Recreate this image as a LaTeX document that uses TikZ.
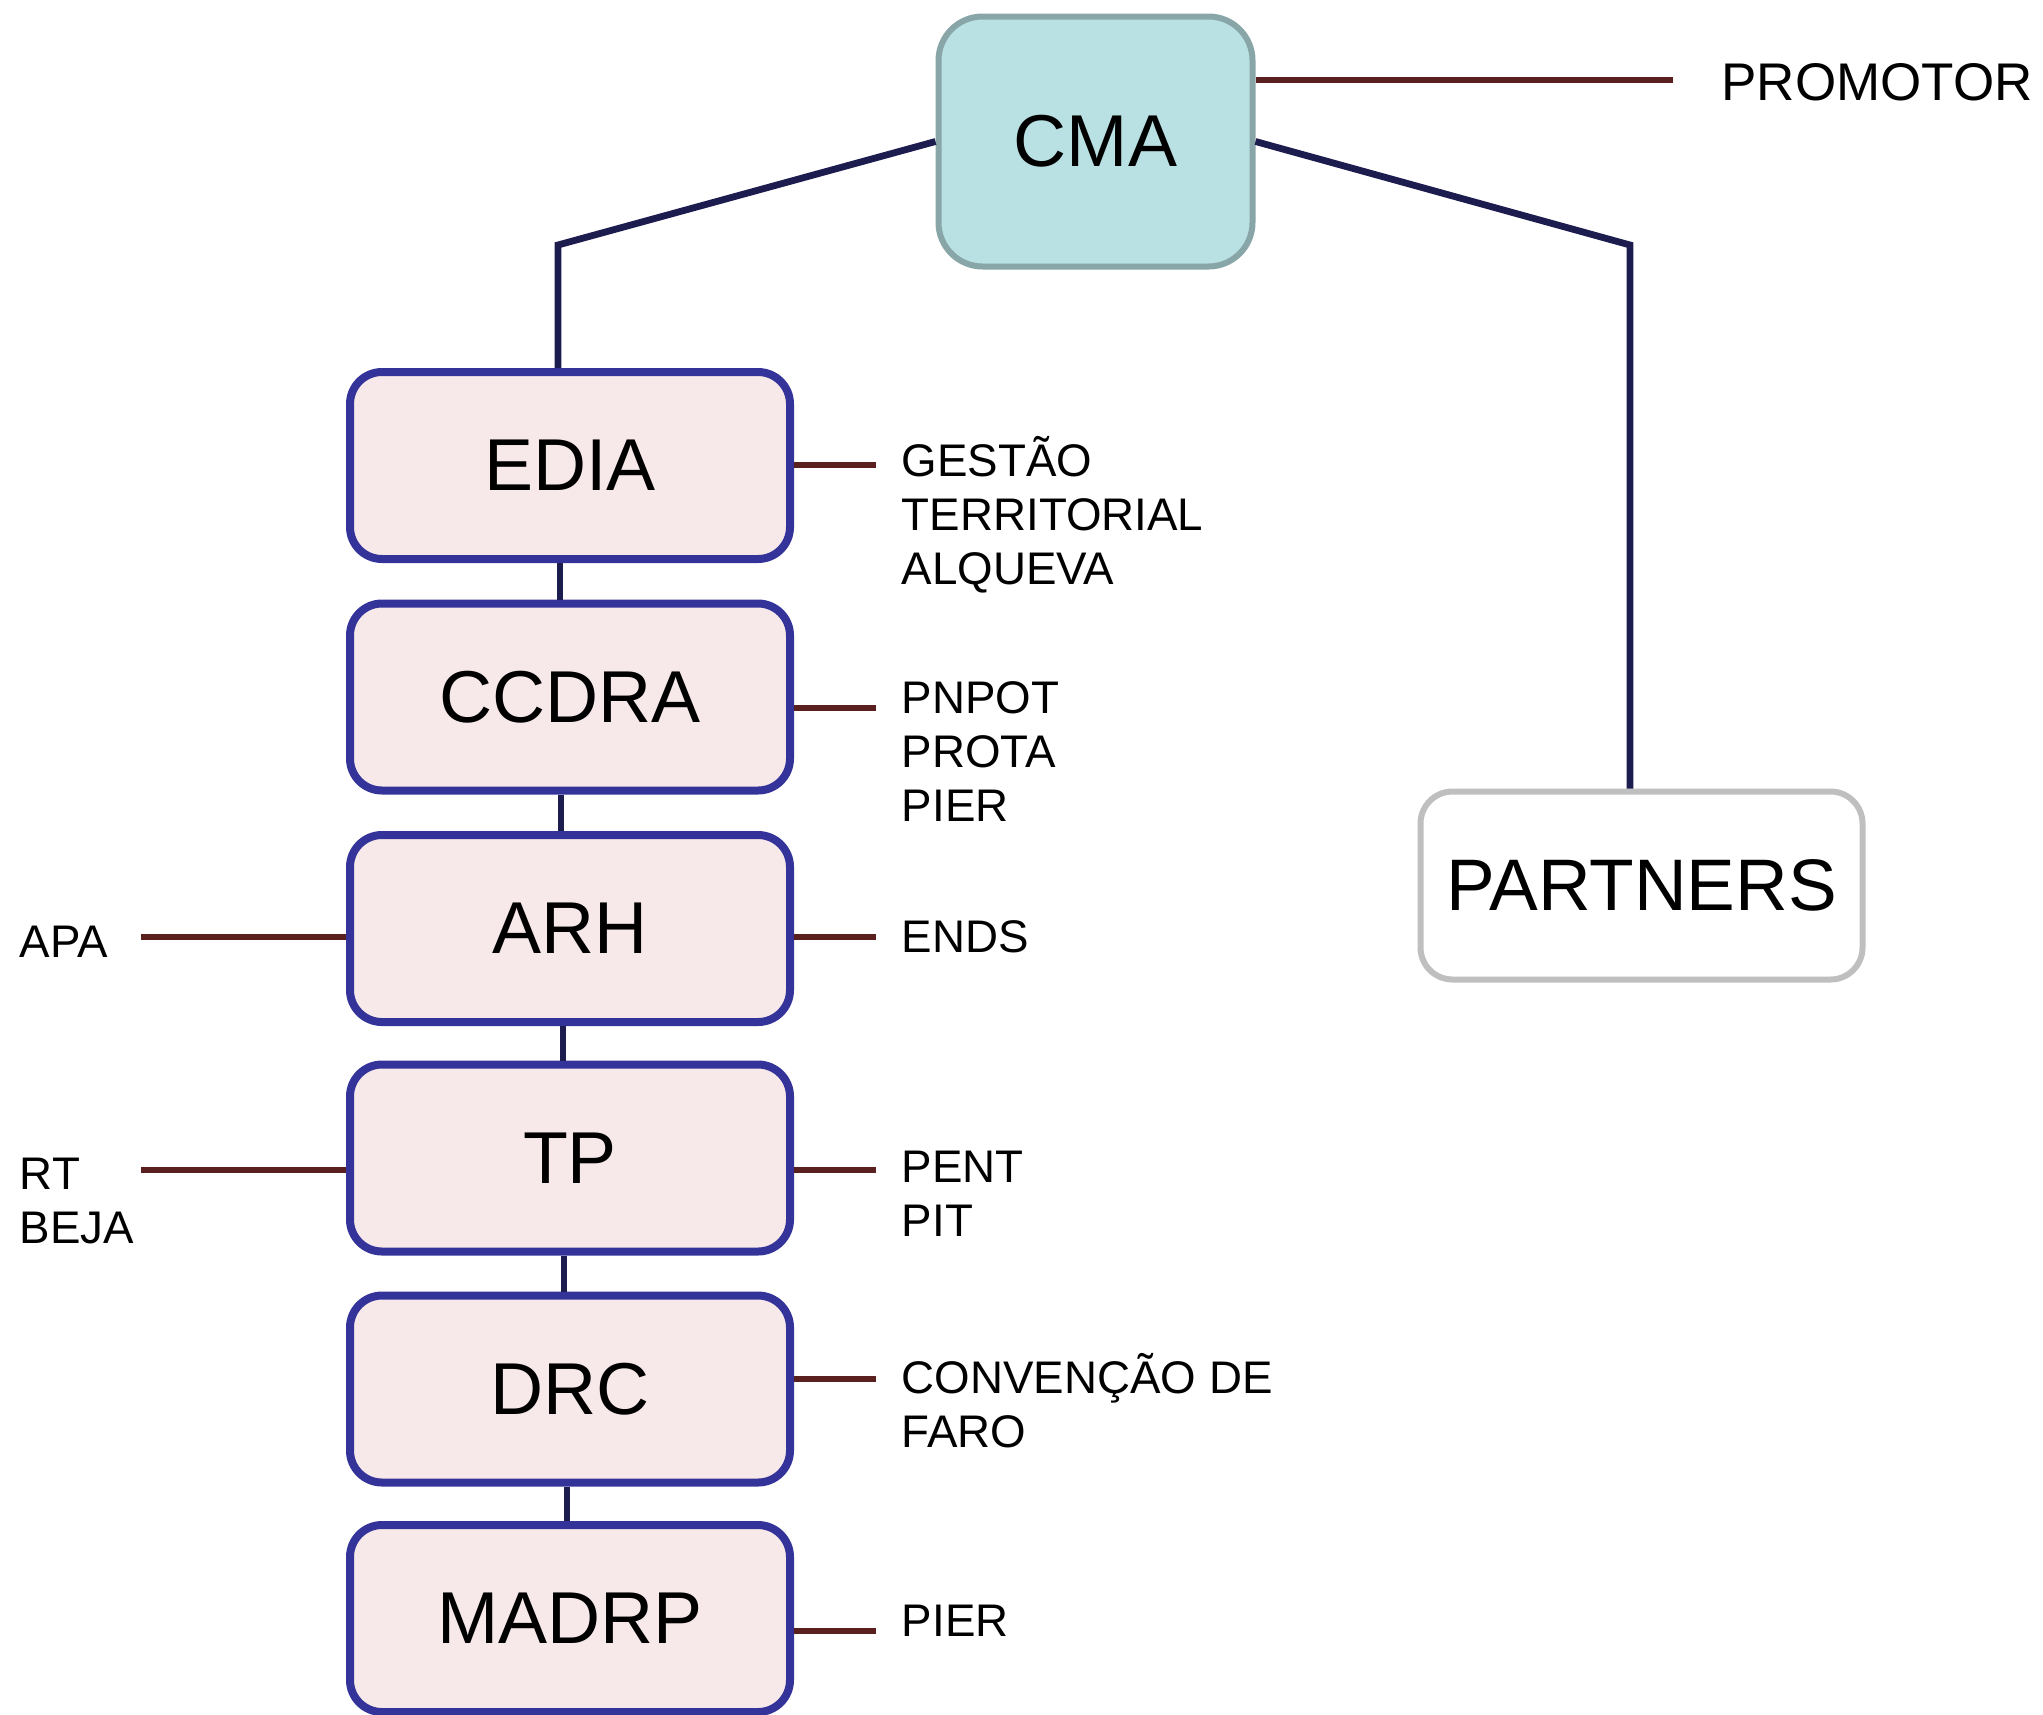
\documentclass[tikz,border=0pt]{standalone}
\usepackage{fontspec}
\setmainfont{Liberation Sans}
\definecolor{boxfill}{HTML}{F7E9E9}
\definecolor{boxdraw}{HTML}{343399}
\definecolor{cmafill}{HTML}{B9E0E3}
\definecolor{cmadraw}{HTML}{88A5A7}
\definecolor{partdraw}{HTML}{BFBFBF}
\definecolor{navyline}{HTML}{1C1C4E}
\definecolor{brownline}{HTML}{5A1F1F}
\begin{document}
\begin{tikzpicture}[x=0.5pt,y=-0.5pt,
  orgbox/.style={draw=boxdraw, fill=boxfill, line width=4pt, rounded corners=16pt,
    minimum width=220pt, minimum height=93.5pt, inner sep=0pt,
    font=\fontsize{36.75}{44}\selectfont},
  cmabox/.style={draw=cmadraw, fill=cmafill, line width=3pt, rounded corners=22pt,
    minimum width=157pt, minimum height=125pt, inner sep=0pt,
    font=\fontsize{36.75}{44}\selectfont},
  partbox/.style={draw=partdraw, fill=white, line width=3pt, rounded corners=16pt,
    minimum width=221pt, minimum height=94pt, inner sep=0pt,
    font=\fontsize{36.5}{44}\selectfont},
  tree/.style={draw=navyline, line width=3.4pt},
  chain/.style={draw=navyline, line width=2.7pt},
  tick/.style={draw=brownline, line width=3pt},
  lbl/.style={anchor=west, inner sep=0pt, align=left,
    font=\fontsize{22.85}{27}\selectfont},
]
\useasboundingbox (0,0) rectangle (2043,1714);

% main nodes
\node[cmabox] (cma) at (1095.5,141.5) {CMA};
\node[partbox] (partners) at (1641.5,885.5) {PARTNERS};
\node[orgbox] (edia)  at (570,465.5) {EDIA};
\node[orgbox] (ccdra) at (570,697) {CCDRA};
\node[orgbox] (arh)   at (570,928.5) {ARH};
\node[orgbox] (tp)    at (570,1158) {TP};
\node[orgbox] (drc)   at (570,1389) {DRC};
\node[orgbox] (madrp) at (570,1618.5) {MADRP};

% tree connectors
\coordinate (L1) at (558,245);
\coordinate (R1) at (1630,245);
\draw[tree] (cma.west) -- (L1) -- (L1 |- edia.north);
\draw[tree] (cma.east) -- (R1) -- (R1 |- partners.north);

% chain between boxes
\draw[chain] ([xshift=-5pt]edia.south) -- ([xshift=-5pt]ccdra.north);
\draw[chain] ([xshift=-4.5pt]ccdra.south) -- ([xshift=-4.5pt]arh.north);
\draw[chain] ([xshift=-3.5pt]arh.south) -- ([xshift=-3.5pt]tp.north);
\draw[chain] ([xshift=-3pt]tp.south) -- ([xshift=-3pt]drc.north);
\draw[chain] ([xshift=-1.5pt]drc.south) -- ([xshift=-1.5pt]madrp.north);

% promotor
\coordinate (P1) at (1673,79.5);
\draw[tick] (cma.east |- P1) -- (P1);
\node[anchor=west, inner sep=0pt, font=\fontsize{26.5}{32}\selectfont] (promotor) at (1721,82) {PROMOTOR};

% right ticks
\coordinate (e1) at (875.5,465);
\coordinate (e2) at (875.5,707.5);
\coordinate (e3) at (875.5,937);
\coordinate (e4) at (875.5,1170);
\coordinate (e5) at (875.5,1378.5);
\coordinate (e6) at (875.5,1631);
\draw[tick] (edia.east |- e1) -- (e1);
\draw[tick] (ccdra.east |- e2) -- (e2);
\draw[tick] (arh.east |- e3) -- (e3);
\draw[tick] (tp.east |- e4) -- (e4);
\draw[tick] (drc.east |- e5) -- (e5);
\draw[tick] (madrp.east |- e6) -- (e6);

% left ticks
\coordinate (w1) at (141,937);
\coordinate (w2) at (141,1170);
\draw[tick] (w1) -- (w1 -| arh.west);
\draw[tick] (w2) -- (w2 -| tp.west);

% right labels
\node[lbl] (t1) at (901.5,515) {GESTÃO\\TERRITORIAL\\ALQUEVA};
\node[lbl] (t2) at (901.5,752) {PNPOT\\PROTA\\PIER};
\node[lbl] (t3) at (901.5,937) {ENDS};
\node[lbl] (t4) at (901.5,1194) {PENT\\PIT};
\node[lbl] (t5) at (901.5,1401) {CONVENÇÃO DE\\FARO};
\node[lbl] (t6) at (901.5,1621) {PIER};

% left labels
\node[lbl] (a1) at (19.5,942) {APA};
\node[lbl] (a2) at (19.5,1200.5) {RT\\BEJA};
\end{tikzpicture}
\end{document}
